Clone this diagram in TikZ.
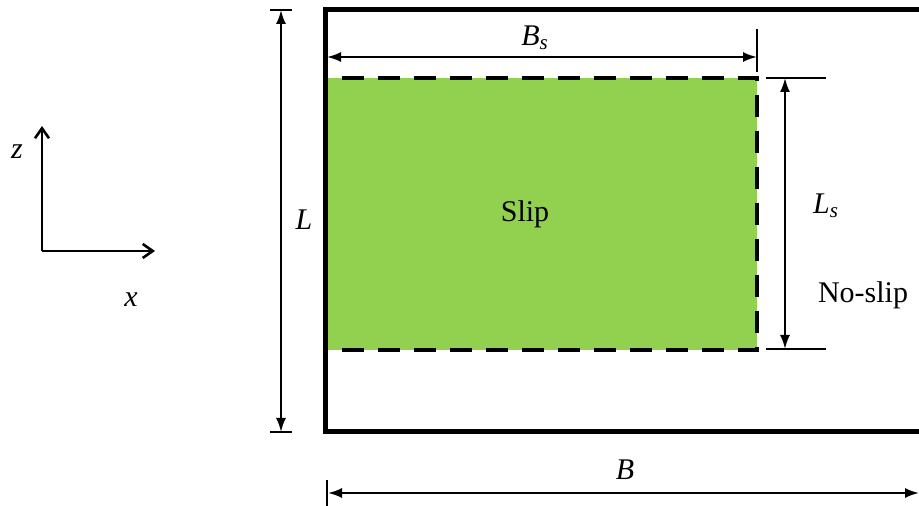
\documentclass[tikz,border=0pt]{standalone}
\usepackage{fontspec}
\setmainfont{Liberation Serif}
\usetikzlibrary{arrows.meta, positioning, calc}
\definecolor{slipgreen}{HTML}{92D050}
\newcommand{\dimsym}[2]{\textit{#1}\textsubscript{\textit{#2}}}
\tikzset{
  wall/.style  = {line width=2.5pt, draw=black},
  patch/.style = {fill=slipgreen},
  brd/.style   = {line width=2pt, draw=black, dash pattern=on 11pt off 7pt},
  dim/.style   = {{Latex[length=7pt, width=5pt]}-{Latex[length=7pt, width=5pt]},
                  line width=1pt, draw=black},
  tck/.style   = {line width=0.8pt, draw=black},
  ax/.style    = {-{Straight Barb[length=5pt, width=7pt]}, line width=1.3pt},
  lbl/.style   = {font=\fontsize{15}{18}\selectfont, inner sep=0pt},
}

\begin{document}
\begin{tikzpicture}[x=0.5pt, y=-0.5pt]
\useasboundingbox (0,0) rectangle (919,506);
% --- plate outline and slip patch ---------------------------------------------
\coordinate (pTL) at (325,10);
\coordinate (pTR) at (919,10);
\coordinate (pBL) at (325,432);
\coordinate (pBR) at (919,432);
\coordinate (sTL) at (326,78);
\coordinate (sBR) at (757,350);
\fill[patch] (sTL) rectangle (sBR);
\draw[wall] (pTR) -- (pTL) -- (pBL) -- (pBR);
\draw[brd] (sTL) rectangle (sBR);
\node[lbl] (slip)   at (525,214) {Slip};
\node[lbl] (noslip) at (863,295) {No-slip};

% --- dimension B_s --------------------------------------------------------------
\coordinate (bsA) at (327,57);
\coordinate (bsB) at (757,57);
\coordinate (bsT1) at (757,29);
\coordinate (bsT2) at (757,72);
\draw[tck] (bsT1) -- (bsT2);
\draw[dim] (bsA) -- (bsB);
\node[lbl] (bslab) at (535,38) {\dimsym{B}{s}};

% --- dimension L ----------------------------------------------------------------
\coordinate (lT1) at (270,10);
\coordinate (lT2) at (292,10);
\coordinate (lB1) at (270,432);
\coordinate (lB2) at (292,432);
\coordinate (lA) at (281,10);
\coordinate (lB) at (281,432);
\draw[tck] (lT1) -- (lT2);
\draw[tck] (lB1) -- (lB2);
\draw[dim] (lA) -- (lB);
\node[lbl] (llab) at (304,220) {\textit{L}};

% --- dimension L_s --------------------------------------------------------------
\coordinate (lsT1) at (766,78);
\coordinate (lsT2) at (826,78);
\coordinate (lsB1) at (766,349);
\coordinate (lsB2) at (826,349);
\coordinate (lsA) at (785,78);
\coordinate (lsB) at (785,349);
\draw[tck] (lsT1) -- (lsT2);
\draw[tck] (lsB1) -- (lsB2);
\draw[dim] (lsA) -- (lsB);
\node[lbl] (lslab) at (826,206) {\dimsym{L}{s}};

% --- dimension B ----------------------------------------------------------------
\coordinate (bT1) at (327,480);
\coordinate (bT2) at (327,506);
\coordinate (bA) at (328,493);
\coordinate (bB) at (919,493);
\draw[tck] (bT1) -- (bT2);
\draw[dim] (bA) -- (bB);
\node[lbl] (blab) at (625,470) {\textit{B}};

% --- axes -----------------------------------------------------------------------
\coordinate (o) at (42,251);
\coordinate (zt) at (42,126);
\coordinate (xt) at (155,251);
\draw[ax] (o) -- (zt);
\draw[ax] (o) -- (xt);
\node[lbl] (zlab) at (17,152) {\textit{z}};
\node[lbl] (xlab) at (131,300) {\textit{x}};
\end{tikzpicture}
\end{document}
